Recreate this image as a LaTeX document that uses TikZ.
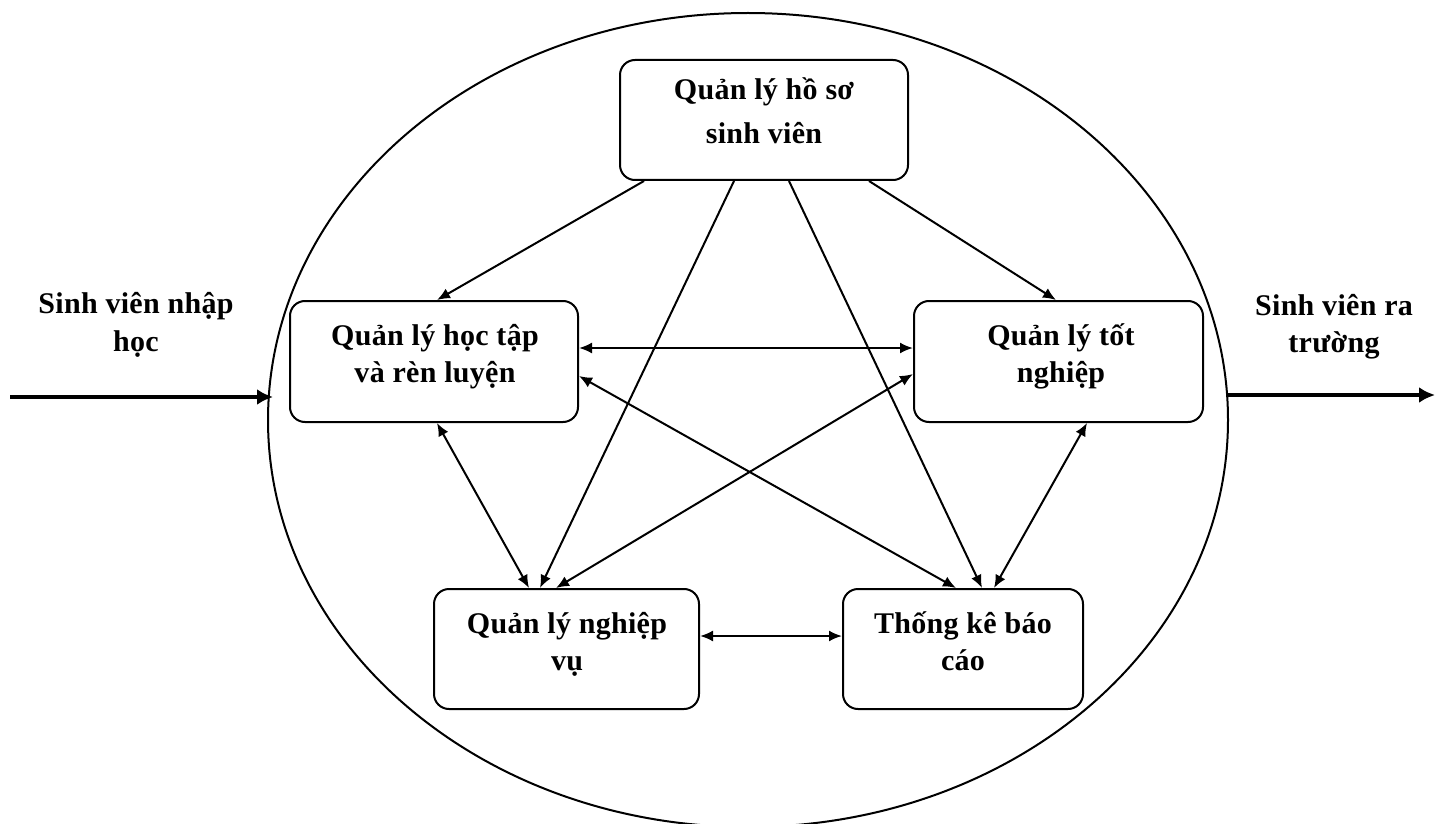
\documentclass[tikz,border=0pt]{standalone}
\usepackage{fontspec}
\setmainfont{Liberation Serif}[LetterSpace=1]
\usetikzlibrary{shapes.geometric,arrows.meta,calc}
\newcommand\mylines[3]{\fontsize{15}{#1}\selectfont\bfseries\begin{tabular}[t]{@{}c@{}}#2\\#3\end{tabular}}
\tikzset{
  box/.style={draw, rounded corners=7.5pt, line width=1pt, inner sep=0pt},
  lab/.style={inner sep=0pt, anchor=base},
  conn/.style={line width=1pt, -{Latex[length=6.5pt,width=5.5pt]}},
  bconn/.style={line width=1pt, {Latex[length=6.5pt,width=5.5pt]}-{Latex[length=6.5pt,width=5.5pt]}},
  flow/.style={line width=2pt, -{Latex[length=8pt,width=8pt]}}
}
\begin{document}
\begin{tikzpicture}[x=0.5pt,y=-0.5pt]
\useasboundingbox (0,0) rectangle (1436,824);
\node[draw, ellipse, line width=1pt, minimum width=480pt, minimum height=407pt, inner sep=0pt, outer sep=0pt] (ell) at (748,420) {};
% boxes
\node[box, minimum width=144pt, minimum height=60pt] (top) at (764,120) {};
\node[box, minimum width=144pt, minimum height=60.5pt] (left) at (434,361.5) {};
\node[box, minimum width=144.5pt, minimum height=60.5pt] (right) at (1058.5,361.5) {};
\node[box, minimum width=132.5pt, minimum height=60pt] (bl) at (566.5,649) {};
\node[box, minimum width=120pt, minimum height=60pt] (br) at (963,649) {};
% texts
\node[lab] (topt) at (764,100) {\mylines{22}{Quản lý hồ sơ}{sinh viên}};
\node[lab] (leftt) at (435,345) {\mylines{18.5}{Quản lý học tập}{và rèn luyện}};
\node[lab] (rightt) at (1061,345) {\mylines{18.5}{Quản lý tốt}{nghiệp}};
\node[lab] (blt) at (567,633) {\mylines{18.5}{Quản lý nghiệp}{vụ}};
\node[lab] (brt) at (963,633) {\mylines{18.5}{Thống kê báo}{cáo}};
\node[lab] (inl) at (136,313) {\mylines{19.5}{Sinh viên nhập}{học}};
\node[lab] (outl) at (1334,315) {\mylines{18.5}{Sinh viên ra}{trường}};
% flows
\coordinate (inS) at (10,397);
\coordinate (outE) at (1435,395);
\draw[flow] (inS) -- ($(ell.west)+(5,-23)$);
\draw[flow] ($(ell.east)+(-1,-25)$) -- (outE);
% connectors
\draw[conn] ($(top.south west)+(25,0)$) -- ($(left.north west)+(148,0)$);
\draw[conn] ($(top.south west)+(250,0)$) -- ($(right.north west)+(143,0)$);
\draw[conn] ($(top.south west)+(115,0)$) -- ($(bl.north west)+(107,0)$);
\draw[conn] ($(top.south west)+(170,0)$) -- ($(br.north west)+(140,0)$);
\draw[bconn] ($(left.north east)+(0,48)$) -- ($(right.north west)+(0,48)$);
\draw[bconn] ($(left.south west)+(148,0)$) -- ($(bl.north west)+(96,0)$);
\draw[bconn] ($(left.north east)+(0,76)$) -- ($(br.north west)+(114,0)$);
\draw[bconn] ($(right.north west)+(0,74)$) -- ($(bl.north west)+(123,0)$);
\draw[bconn] ($(right.south west)+(174,0)$) -- ($(br.north west)+(152,0)$);
\draw[bconn] ($(bl.north east)+(0,48)$) -- ($(br.north west)+(0,48)$);
\end{tikzpicture}
\end{document}
